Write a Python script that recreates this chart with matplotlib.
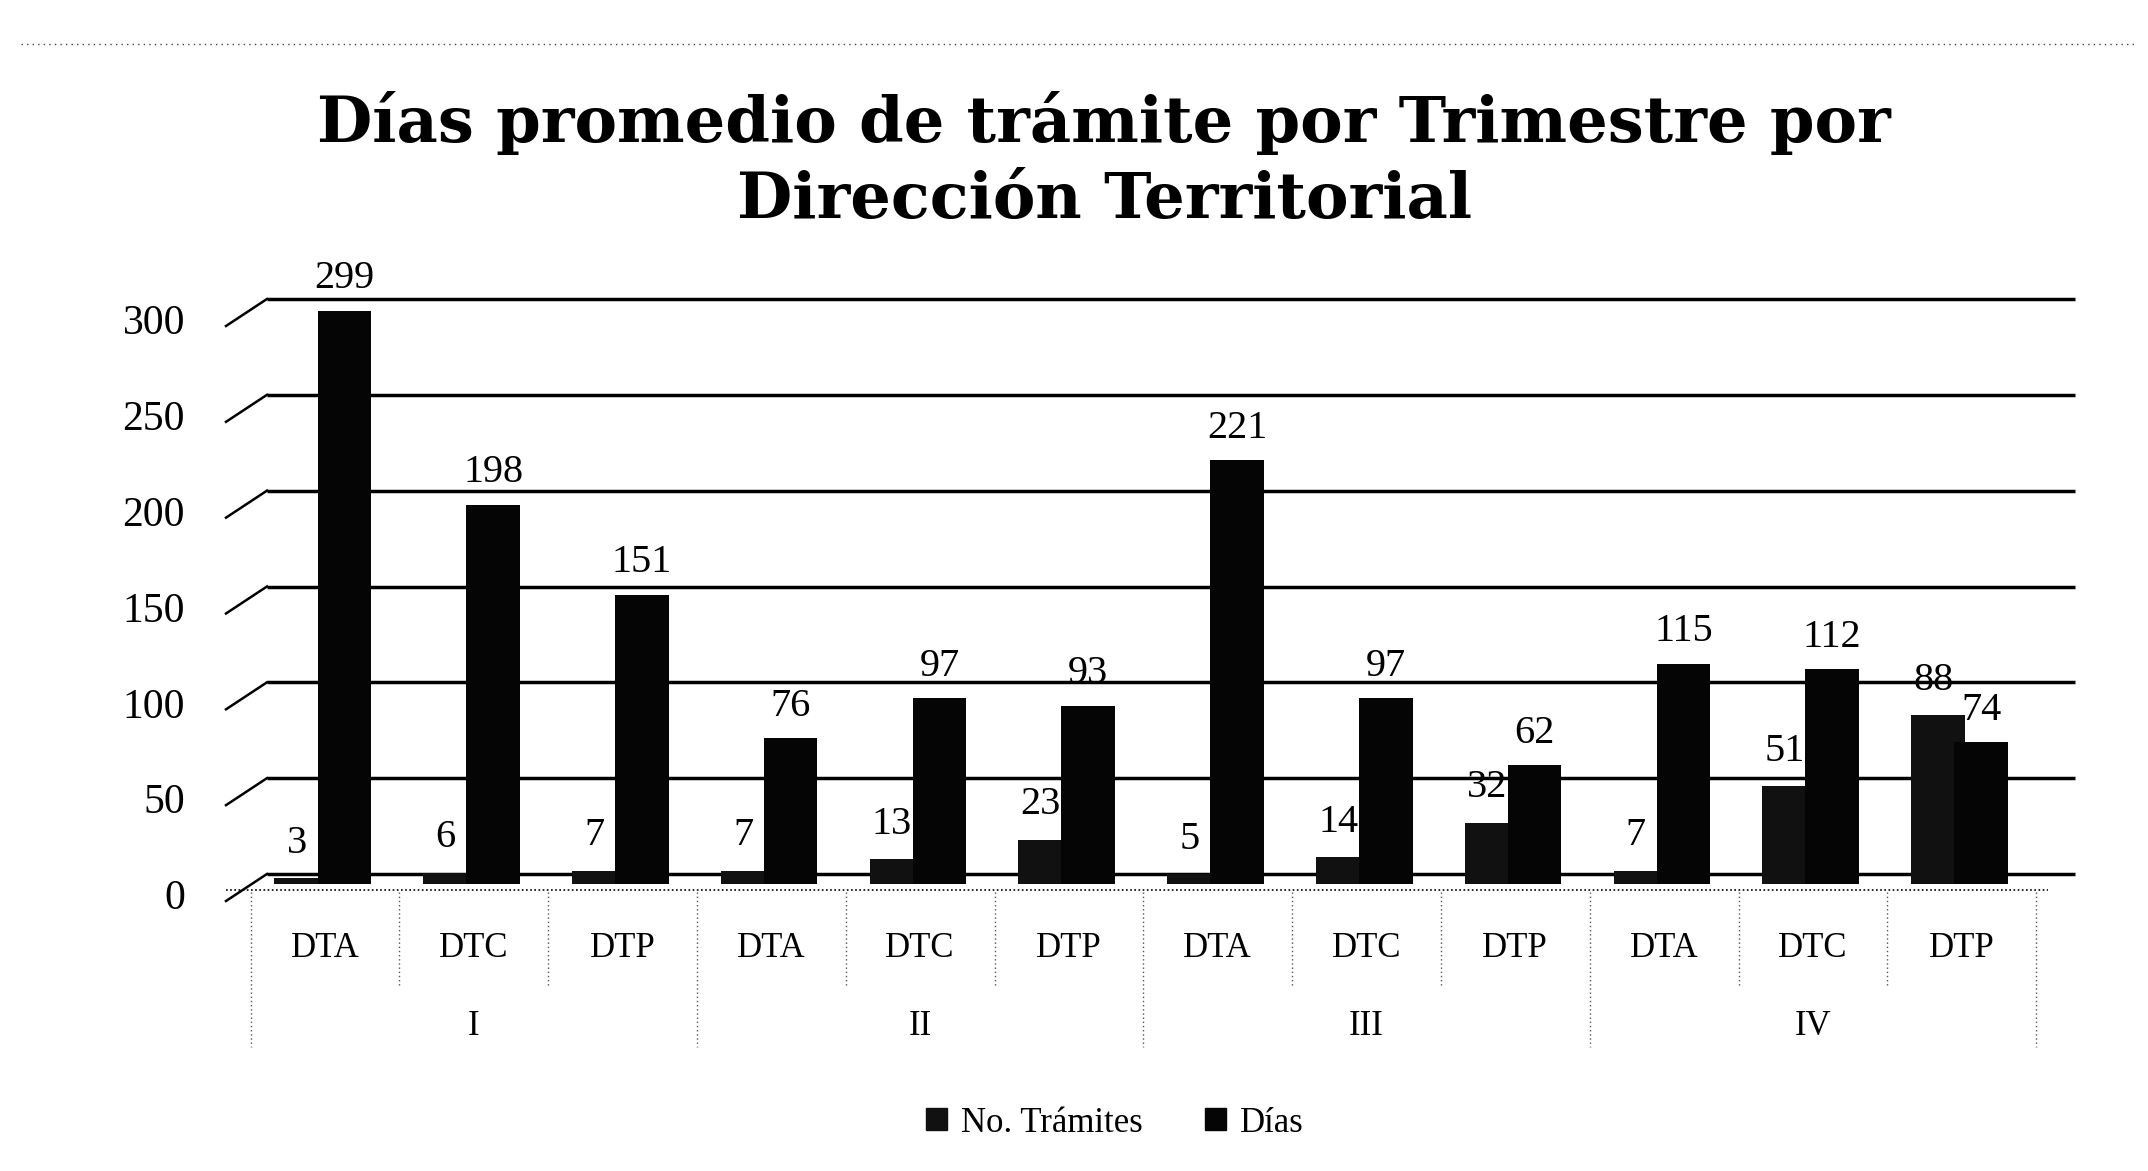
import matplotlib
matplotlib.use("Agg")
import matplotlib.pyplot as plt
from matplotlib.lines import Line2D
from matplotlib.patches import Patch

# data
quarters = ["I", "II", "III", "IV"]
offices = ["DTA", "DTC", "DTP"]
tramites = [3, 6, 7, 7, 13, 23, 5, 14, 32, 7, 51, 88]
dias = [299, 198, 151, 76, 97, 93, 221, 97, 62, 115, 112, 74]
yticks = [0, 50, 100, 150, 200, 250, 300]

W, H = 2148, 1171
SERIF = "Liberation Serif"

fig = plt.figure(figsize=(W / 100, H / 100), dpi=100)
fig.patch.set_facecolor("white")

# front plane of the fake 3D box, in pixels of the output
ax = fig.add_axes([226 / W, (H - 884) / H, (2048 - 226) / W, 575 / H])
ax.set_xlim(-0.665, 11.58)
ax.set_ylim(0, 300)
ax.axis("off")

px = 300 / 575          # data units per pixel (vertical)
ux = 1 / 148.8          # data units per pixel (horizontal)
wall_l = (267 - 325) * ux
wall_r = (2075 - 325) * ux
front_l = -0.665

# back wall gridlines + slanted side edges
for v in yticks:
    ax.plot([wall_l, wall_r], [v + 10 * px] * 2, color="black", lw=2.5,
            zorder=1, clip_on=False, solid_capstyle="butt")
    ax.plot([front_l, wall_l], [v - 17 * px, v + 10 * px], color="black",
            lw=1.8, zorder=1, clip_on=False)
    ax.text(-0.94, v - 15 * px, str(v), ha="right", va="center",
            fontsize=30, family=SERIF, clip_on=False)

# floor front edge
ax.plot([front_l, 11.58], [-6 * px] * 2, color="black", lw=1.2,
        linestyle=(0, (1, 1.5)), zorder=2, clip_on=False)

x = list(range(len(dias)))
ax.bar([i - 0.16 for i in x], tramites, width=0.36, color="#111111",
       zorder=3, label="No. Trámites")
ax.bar([i + 0.13 for i in x], dias, width=0.36, color="#050505",
       zorder=4, label="Días")

for i in x:
    ax.text(i - 0.19, tramites[i] + 35 * px, str(tramites[i]), ha="center",
            va="center", fontsize=29, family=SERIF, zorder=6)
    ax.text(i + 0.13, dias[i] + 32 * px, str(dias[i]), ha="center",
            va="center", fontsize=29, family=SERIF, zorder=6)

# category axis: offices then quarters
for i in x:
    ax.text(i, -33.4, offices[i % 3], ha="center", va="center",
            fontsize=25, family=SERIF, clip_on=False)
for q, name in enumerate(quarters):
    ax.text(q * 3 + 1, -74.6, name, ha="center", va="center",
            fontsize=25, family=SERIF, clip_on=False)

for b in range(len(dias) + 1):
    xb = b - 0.5
    low = -85 if b % 3 == 0 else -53
    ax.plot([xb, xb], [-8 * px, low], color="#555555", lw=1.0,
            linestyle=(0, (1, 2)), clip_on=False, zorder=2)

# title
fig.text(0.514, 1 - 123 / H, "Días promedio de trámite por Trimestre por",
         ha="center", va="center", fontsize=46, fontweight="bold",
         family="DejaVu Serif")
fig.text(0.514, 1 - 201 / H, "Dirección Territorial",
         ha="center", va="center", fontsize=46, fontweight="bold",
         family="DejaVu Serif")

# dotted border at top of the chart area
fig.add_artist(Line2D([0.01, 0.995], [1 - 44 / H] * 2, transform=fig.transFigure,
                      color="#444444", lw=1.0, linestyle=(0, (1, 3))))

handles = [Patch(color="#111111", label="No. Trámites"),
           Patch(color="#050505", label="Días")]
fig.legend(handles=handles, loc="center", bbox_to_anchor=(0.519, 1 - 1123 / H),
           ncol=2, frameon=False, prop={"family": SERIF, "size": 25},
           handlelength=0.6, handleheight=0.6, handletextpad=0.4,
           columnspacing=1.8)

fig.savefig("out.png", dpi=100, facecolor="white")
